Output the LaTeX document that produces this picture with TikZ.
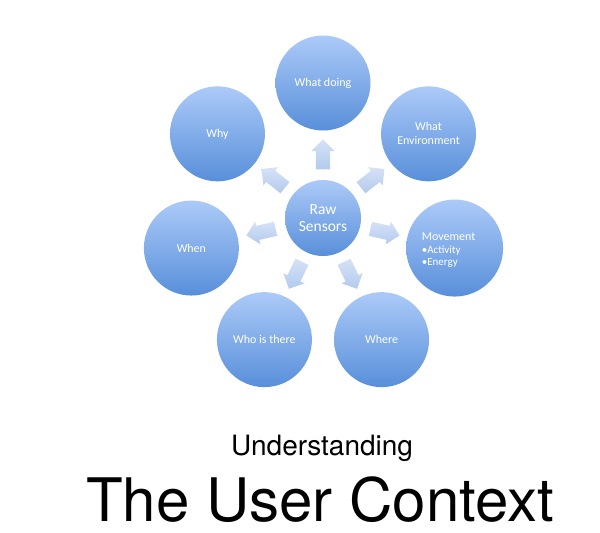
\documentclass[tikz,border=0pt]{standalone}
\usepackage{fontspec}
\setmainfont{Carlito}
\newfontfamily\titlefont{TeX Gyre Heros}
\usetikzlibrary{shapes.arrows,calc}
\definecolor{bubtop}{RGB}{172,202,248}
\definecolor{bubbot}{RGB}{88,143,218}
\definecolor{arrtop}{RGB}{214,226,246}
\definecolor{arrbot}{RGB}{178,202,238}
\begin{document}
\begin{tikzpicture}[x=1pt,y=-1pt]
\tikzset{
  bubble/.style={circle,minimum size=95pt,inner sep=0pt,top color=bubtop,bottom color=bubbot,
    text=white,align=center,font=\fontsize{12}{14}\selectfont},
  hub/.style={bubble,minimum size=76pt,font=\fontsize{15.5}{17}\selectfont},
  pointer/.style={single arrow,minimum height=30pt,inner xsep=0pt,inner ysep=7pt,
    single arrow head extend=4.5pt,single arrow tip angle=90,
    top color=arrtop,bottom color=arrbot,shading angle=#1}
}
\useasboundingbox (0,0) rectangle (600,533);
\node[hub] (raw) at (323,218) {Raw\\Sensors};
% outer ring, seven bubbles 51.43 degrees apart
\node[bubble] (doing) at ($(raw)+(0,-135)$) {What doing};
\node[bubble] (env) at ($(raw)+({135*cos(38.57)},{-135*sin(38.57)})$) {What\\Environment};
\node[bubble,minimum size=97pt] (move) at ($(raw)+({135*cos(-12.86)},{-135*sin(-12.86)})$) {};
\node[white,align=left,anchor=north west,inner sep=0pt] (movetxt) at ($(move.center)+(-33,-15)$)
  {{\fontsize{12}{14}\selectfont Movement}\\[1pt]{\fontsize{11}{12}\selectfont\textbullet Activity}\\{\fontsize{11}{12}\selectfont\textbullet Energy}};
\node[bubble] (where) at ($(raw)+({135*cos(-64.29)},{-135*sin(-64.29)})$) {Where};
\node[bubble] (who) at ($(raw)+({135*cos(-115.71)},{-135*sin(-115.71)})$) {Who is there};
\node[bubble] (when) at ($(raw)+({135*cos(-167.14)},{-135*sin(-167.14)})$) {When};
\node[bubble] (why) at ($(raw)+({135*cos(141.43)},{-135*sin(141.43)})$) {Why};
% block arrows between hub and ring
\foreach \ang/\tgt in {90/doing,38.57/env,-12.86/move,-64.29/where,-115.71/who,-167.14/when,141.43/why}
  \node[pointer=0,rotate=\ang] (arr-\tgt) at ($(raw)+({60*cos(\ang)},{-60*sin(\ang)})$) {};
\node[font=\titlefont\fontsize{28}{32}\selectfont,inner sep=0pt,anchor=base] (sub) at (322,455) {Understanding};
\node[font=\titlefont\fontsize{60}{66}\selectfont,inner sep=0pt,anchor=base] (title) at (320,521) {The User Context};
\end{tikzpicture}
\end{document}
